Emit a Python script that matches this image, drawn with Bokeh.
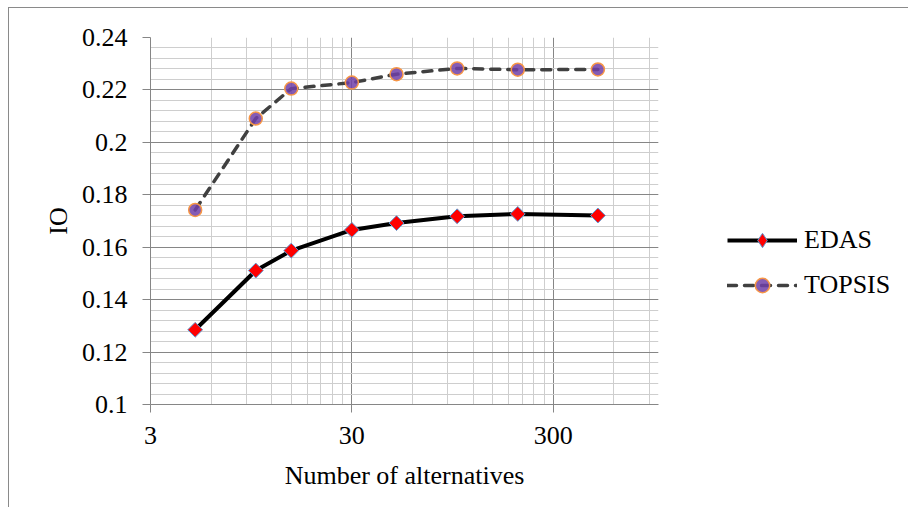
from bokeh.plotting import figure
from bokeh.models import (Range1d, FixedTicker, CustomJSTickFormatter, Legend, LegendItem)
from bokeh.embed import file_html
from bokeh.resources import INLINE
import numpy as np

# ---- data ----
alternatives = [5, 10, 15, 30, 50, 100, 200, 500]
edas = [0.1285, 0.1511, 0.1587, 0.1666, 0.1692, 0.1718, 0.1727, 0.1721]
topsis = [0.1742, 0.2091, 0.2205, 0.2228, 0.2260, 0.2282, 0.2277, 0.2278]

x_ticks = [3, 30, 300]
x_minor = [3 * k for k in range(2, 10)] + [30 * k for k in range(2, 10)] + [300 * k for k in range(2, 4)] + [1000]
y_ticks = [0.10, 0.12, 0.14, 0.16, 0.18, 0.20, 0.22, 0.24]
y_minor = [round(0.1 + 0.004 * i, 3) for i in range(36)]

FONT = "Liberation Serif"
MAJOR = "#868686"
MINOR = "#cecece"

p = figure(frame_width=508, frame_height=367, x_axis_type="log",
           x_range=Range1d(3, 1000), y_range=Range1d(0.1, 0.24),
           output_backend="svg", toolbar_location=None,
           min_border_left=141, min_border_right=0,
           min_border_top=29, min_border_bottom=103,
           background_fill_color="white", border_fill_color="white")
p.styles = {"border-left": "1px solid #8a8a8a", "border-top": "1px solid #8a8a8a",
            "margin-left": "8px", "margin-top": "7px"}
p.outline_line_color = None

p.xaxis.ticker = FixedTicker(ticks=x_ticks, minor_ticks=x_minor)
p.yaxis.ticker = FixedTicker(ticks=y_ticks, minor_ticks=y_minor)
p.xaxis.formatter = CustomJSTickFormatter(code="return tick.toFixed(0);")
p.yaxis.formatter = CustomJSTickFormatter(code="return String(Number(tick.toFixed(3)));")

for ax in (p.xaxis, p.yaxis):
    ax.axis_line_color = MAJOR
    ax.major_tick_line_color = MAJOR
    ax.major_tick_out = 8
    ax.major_tick_in = 0
    ax.minor_tick_out = 0
    ax.minor_tick_in = 0
    ax.major_label_text_font = FONT
    ax.major_label_text_font_size = "26px"
    ax.major_label_text_color = "black"
    ax.axis_label_text_font = FONT
    ax.axis_label_text_font_size = "26px"
    ax.axis_label_text_font_style = "normal"
    ax.axis_label_text_color = "black"

p.xaxis.axis_label = "Number of alternatives"
p.yaxis.axis_label = "IO"
p.xaxis.major_label_standoff = 14
p.yaxis.major_label_standoff = 15
p.xaxis.axis_label_standoff = 14
p.yaxis.axis_label_standoff = 6

for g in (p.xgrid, p.ygrid):
    g.grid_line_color = MAJOR
    g.grid_line_width = 1
    g.minor_grid_line_color = MINOR
    g.minor_grid_line_width = 1

EDAS_MARK = dict(fill_color="#ff0000", line_color="#5b9bd5", line_width=1)
TOPSIS_MARK = dict(fill_color="#7040a8", fill_alpha=0.85, line_color="#f79646", line_width=1.5)

l1 = p.line(alternatives, edas, line_color="black", line_width=4)
m1 = p.scatter(alternatives, edas, marker="square", size=10.5, angle=np.pi / 4, **EDAS_MARK)

l2 = p.line(alternatives, topsis, line_color="#404040", line_width=3.5,
            line_dash="9 8", line_cap="round")
m2 = p.scatter(alternatives, topsis, marker="circle", size=13, **TOPSIS_MARK)

# legend-only marker (legend glyphs are drawn unrotated); its single point lies
# outside the visible ranges so only the legend shows it
m1_leg = p.scatter(x=[1], y=[0.05], marker="diamond", size=14, **EDAS_MARK)

legend = Legend(items=[LegendItem(label="EDAS", renderers=[l1, m1_leg]),
                       LegendItem(label="TOPSIS", renderers=[l2, m2])],
                location=(69, 101), orientation="vertical",
                glyph_width=70, glyph_height=36, label_standoff=7,
                spacing=9, padding=0, margin=0,
                border_line_color=None, background_fill_alpha=0,
                label_text_font=FONT, label_text_font_size="26px",
                label_text_color="black")
p.add_layout(legend, "right")

open("out.html", "w").write(file_html(p, INLINE))
